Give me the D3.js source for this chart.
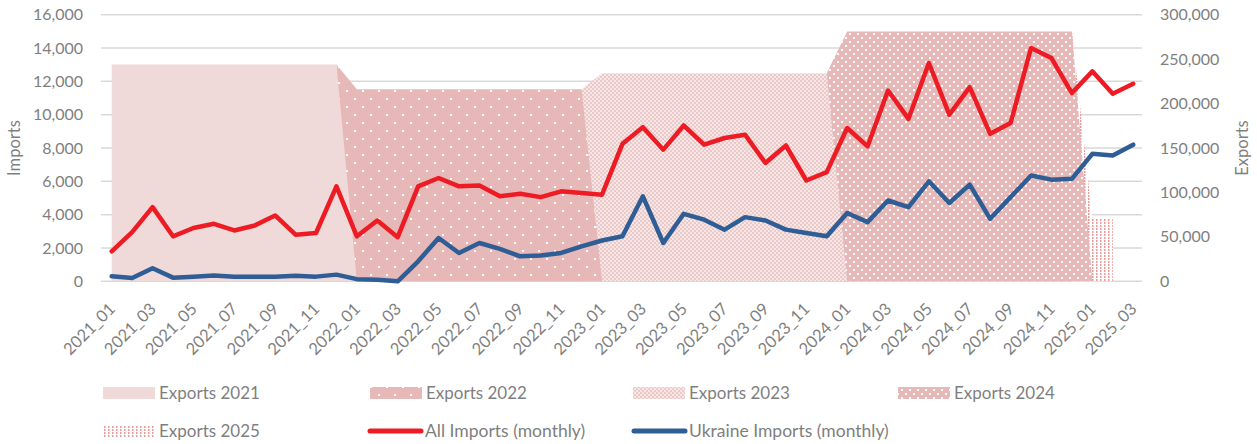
<!DOCTYPE html>
<html>
<head>
<meta charset="utf-8">
<script src="https://cdn.jsdelivr.net/npm/d3@7"></script>
<style>
  html, body { margin: 0; padding: 0; background: #ffffff; }
  svg { display: block; }
  text { font-family: Lato, "Open Sans", sans-serif; fill: #7f7f7f; }
</style>
</head>
<body>
<svg id="chart" width="1257" height="444"></svg>
<script>
const categories = [
  "2021_01","2021_02","2021_03","2021_04","2021_05","2021_06","2021_07","2021_08","2021_09","2021_10","2021_11","2021_12",
  "2022_01","2022_02","2022_03","2022_04","2022_05","2022_06","2022_07","2022_08","2022_09","2022_10","2022_11","2022_12",
  "2023_01","2023_02","2023_03","2023_04","2023_05","2023_06","2023_07","2023_08","2023_09","2023_10","2023_11","2023_12",
  "2024_01","2024_02","2024_03","2024_04","2024_05","2024_06","2024_07","2024_08","2024_09","2024_10","2024_11","2024_12",
  "2025_01","2025_02","2025_03"
];

// Imports (left axis)
const allImports = [
  1800, 2950, 4450, 2700, 3200, 3450, 3050, 3350, 3950, 2800, 2900, 5700,
  2700, 3650, 2650, 5700, 6200, 5700, 5750, 5100, 5250, 5050, 5400, 5300,
  5200, 8250, 9250, 7900, 9350, 8200, 8600, 8800, 7100, 8150, 6050, 6550,
  9200, 8100, 11450, 9750, 13100, 10000, 11650, 8850, 9500, 14000, 13400, 11300,
  12600, 11250, 11850
];
const ukraineImports = [
  300, 200, 780, 220, 280, 350, 280, 280, 280, 330, 280, 400,
  130, 100, 0, 1200, 2600, 1700, 2300, 1950, 1500, 1550, 1700, 2100,
  2450, 2700, 5100, 2300, 4050, 3700, 3100, 3850, 3650, 3100, 2900, 2700,
  4100, 3550, 4850, 4450, 6000, 4700, 5800, 3750, 5050, 6350, 6100, 6150,
  7650, 7550, 8200
];

// Exports (right axis): each series given from its first category
const exports2021Start = "2021_01";
const exports2021 = [244000, 244000, 244000, 244000, 244000, 244000, 244000, 244000, 244000, 244000, 244000, 244000, 0];
const exports2022Start = "2021_12";
const exports2022 = [244000, 216000, 216000, 216000, 216000, 216000, 216000, 216000, 216000, 216000, 216000, 216000, 216000, 0];
const exports2023Start = "2022_12";
const exports2023 = [216000, 234000, 234000, 234000, 234000, 234000, 234000, 234000, 234000, 234000, 234000, 234000, 234000, 0];
const exports2024Start = "2023_12";
const exports2024 = [234000, 281000, 281000, 281000, 281000, 281000, 281000, 281000, 281000, 281000, 281000, 281000, 281000, 0];
const exports2025Start = "2024_12";
const exports2025 = [281000, 71000, 71000];

const leftTicks = [0, 2000, 4000, 6000, 8000, 10000, 12000, 14000, 16000];
const rightTicks = [0, 50000, 100000, 150000, 200000, 250000, 300000];

const svg = d3.select("#chart");
const defs = svg.append("defs");

// patterns
const p22 = defs.append("pattern").attr("id", "pat2022").attr("patternUnits", "userSpaceOnUse")
  .attr("width", 16).attr("height", 16);
p22.append("rect").attr("width", 16).attr("height", 16).attr("fill", "#e6b8b7");
p22.append("rect").attr("x", 2).attr("y", 2).attr("width", 2).attr("height", 2).attr("fill", "#ffffff");
p22.append("rect").attr("x", 10).attr("y", 10).attr("width", 2).attr("height", 2).attr("fill", "#ffffff");

const p23 = defs.append("pattern").attr("id", "pat2023").attr("patternUnits", "userSpaceOnUse")
  .attr("width", 4).attr("height", 4);
p23.append("rect").attr("width", 4).attr("height", 4).attr("fill", "#f7e6e6");
p23.append("rect").attr("x", 0).attr("y", 0).attr("width", 2).attr("height", 2).attr("fill", "#ecc9c9");
p23.append("rect").attr("x", 2).attr("y", 2).attr("width", 2).attr("height", 2).attr("fill", "#ecc9c9");

const p24 = defs.append("pattern").attr("id", "pat2024").attr("patternUnits", "userSpaceOnUse")
  .attr("width", 8).attr("height", 8);
p24.append("rect").attr("width", 8).attr("height", 8).attr("fill", "#e6b8b7");
p24.append("rect").attr("x", 1).attr("y", 1).attr("width", 2).attr("height", 2).attr("fill", "#ffffff");
p24.append("rect").attr("x", 5).attr("y", 5).attr("width", 2).attr("height", 2).attr("fill", "#ffffff");

const p25 = defs.append("pattern").attr("id", "pat2025").attr("patternUnits", "userSpaceOnUse")
  .attr("width", 4).attr("height", 3);
p25.append("rect").attr("width", 4).attr("height", 3).attr("fill", "#ffffff");
p25.append("rect").attr("x", 0).attr("y", 0).attr("width", 1.5).attr("height", 2).attr("fill", "#e79a9a");

const x = d3.scalePoint().domain(categories).range([101.5, 1143.4]).padding(0.5);
const yL = d3.scaleLinear().domain([0, 16000]).range([281.3, 14.7]);
const yR = d3.scaleLinear().domain([0, 300000]).range([281.3, 14.7]);

// gridlines
svg.append("g").selectAll("line").data(leftTicks).join("line")
  .attr("x1", 101).attr("x2", 1142)
  .attr("y1", d => yL(d)).attr("y2", d => yL(d))
  .attr("stroke", "#d9d9d9").attr("stroke-width", 1.5);

// export areas
const exportSeries = [
  { name: "Exports 2021", start: exports2021Start, values: exports2021, fill: "#f0d9d9" },
  { name: "Exports 2022", start: exports2022Start, values: exports2022, fill: "url(#pat2022)" },
  { name: "Exports 2023", start: exports2023Start, values: exports2023, fill: "url(#pat2023)" },
  { name: "Exports 2024", start: exports2024Start, values: exports2024, fill: "url(#pat2024)" },
  { name: "Exports 2025", start: exports2025Start, values: exports2025, fill: "url(#pat2025)" }
];
const area = d3.area()
  .x(d => x(d.c))
  .y0(yR(0))
  .y1(d => yR(d.v));
const areaG = svg.append("g");
exportSeries.slice().reverse().forEach(s => {
  const i0 = categories.indexOf(s.start);
  const pts = s.values.map((v, k) => ({ c: categories[i0 + k], v }));
  areaG.append("path").attr("d", area(pts)).attr("fill", s.fill);
});

// lines
const line = d3.line().x((d, i) => x(categories[i])).y(d => yL(d));
svg.append("path").datum(allImports).attr("d", line)
  .attr("fill", "none").attr("stroke", "#ed1c24").attr("stroke-width", 4.5)
  .attr("stroke-linejoin", "round").attr("stroke-linecap", "round");
svg.append("path").datum(ukraineImports).attr("d", line)
  .attr("fill", "none").attr("stroke", "#2f5d95").attr("stroke-width", 4.5)
  .attr("stroke-linejoin", "round").attr("stroke-linecap", "round");

// left axis
const leftAxis = d3.axisLeft(yL).tickValues(leftTicks).tickFormat(d3.format(",")).tickSize(0).tickPadding(0);
const gl = svg.append("g").attr("transform", "translate(83,0)").call(leftAxis);
gl.select(".domain").remove();
gl.selectAll("text").style("font-size", "16px").attr("fill", "#7f7f7f").style("font-family", "Lato, sans-serif");

// right axis
const rightAxis = d3.axisRight(yR).tickValues(rightTicks).tickFormat(d3.format(",")).tickSize(0).tickPadding(0);
const gr = svg.append("g").attr("transform", "translate(1160,0)").call(rightAxis);
gr.select(".domain").remove();
gr.selectAll("text").style("font-size", "16px").attr("fill", "#7f7f7f").style("font-family", "Lato, sans-serif");

// x axis labels
const xAxis = d3.axisBottom(x).tickValues(categories.filter((c, i) => i % 2 === 0)).tickSize(0).tickPadding(0);
const gx = svg.append("g").attr("transform", "translate(0,281)").call(xAxis);
gx.select(".domain").remove();
gx.selectAll("text")
  .attr("text-anchor", "end")
  .attr("dy", null)
  .attr("y", 0)
  .attr("transform", "translate(4,29) rotate(-45)")
  .style("font-size", "16.5px").attr("fill", "#7f7f7f").style("font-family", "Lato, sans-serif");

// axis titles
svg.append("text").attr("transform", "translate(20,148) rotate(-90)")
  .attr("text-anchor", "middle").style("font-size", "16.5px").text("Imports");
svg.append("text").attr("transform", "translate(1248,148) rotate(-90)")
  .attr("text-anchor", "middle").style("font-size", "16.5px").text("Exports");

// legend
const legendItems = [
  { name: "Exports 2021", type: "area", fill: "#f0d9d9", x: 103, y: 393 },
  { name: "Exports 2022", type: "area", fill: "url(#pat2022)", x: 370, y: 393 },
  { name: "Exports 2023", type: "area", fill: "url(#pat2023)", x: 633, y: 393 },
  { name: "Exports 2024", type: "area", fill: "url(#pat2024)", x: 898, y: 393 },
  { name: "Exports 2025", type: "area", fill: "url(#pat2025)", x: 103, y: 431 },
  { name: "All Imports (monthly)", type: "line", stroke: "#ed1c24", x: 368, y: 431 },
  { name: "Ukraine Imports (monthly)", type: "line", stroke: "#2f5d95", x: 632, y: 431 }
];
const lg = svg.append("g");
legendItems.forEach(it => {
  if (it.type === "area") {
    lg.append("rect").attr("x", it.x).attr("y", it.y - 6).attr("width", 52).attr("height", 12).attr("fill", it.fill);
    lg.append("text").attr("x", it.x + 56).attr("y", it.y).attr("dy", "0.35em")
      .style("font-size", "17px").text(it.name);
  } else {
    lg.append("line").attr("x1", it.x + 2).attr("x2", it.x + 53).attr("y1", it.y).attr("y2", it.y)
      .attr("stroke", it.stroke).attr("stroke-width", 5).attr("stroke-linecap", "round");
    lg.append("text").attr("x", it.x + 57).attr("y", it.y).attr("dy", "0.35em")
      .style("font-size", "17.5px").text(it.name);
  }
});
</script>
</body>
</html>
